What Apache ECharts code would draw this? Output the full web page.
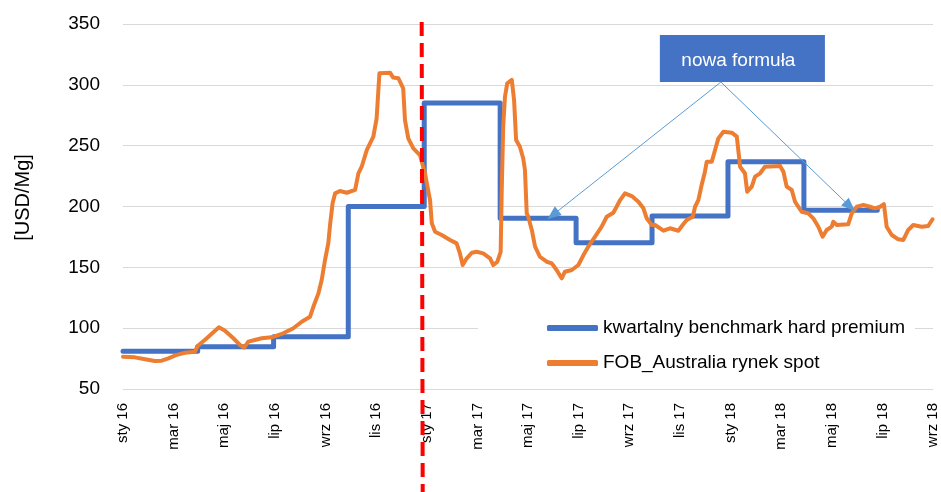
<!DOCTYPE html>
<html>
<head>
<meta charset="utf-8">
<script src="https://cdn.jsdelivr.net/npm/echarts@6/dist/echarts.min.js"></script>
<style>
html,body{margin:0;padding:0;background:#fff;}
#chart{width:941px;height:492px;}
</style>
</head>
<body>
<div id="chart"></div>
<script>
// ---- Data (x = months since Jan 2016) ----
const tickLabels = ['sty 16','mar 16','maj 16','lip 16','wrz 16','lis 16','sty 17','mar 17','maj 17','lip 17','wrz 17','lis 17','sty 18','mar 18','maj 18','lip 18','wrz 18'];

const seriesNames = ['kwartalny benchmark hard premium', 'FOB_Australia rynek spot'];

const benchmarkMonths = [0, 2.95, 5.95, 8.9, 11.9, 14.9, 17.9, 20.9, 23.9, 26.9, 29.8];
const benchmarkValues = [81, 84.8, 93, 200, 285, 190.3, 170.2, 192.2, 236.8, 197, 197];

const spotMonths = [0,0.47,0.87,1.26,1.53,1.79,2.12,2.45,2.84,2.95,3.31,3.57,3.79,4.03,4.36,4.62,4.79,4.95,5.21,5.48,5.87,
  6.33,6.73,7.06,7.39,7.52,7.72,7.85,7.98,8.11,8.18,8.28,8.38,8.57,8.84,9.17,9.30,9.43,9.63,9.89,10.02,10.13,10.55,10.67,10.88,
  11.07,11.14,11.27,11.47,11.73,11.93,12.13,12.20,12.33,12.59,12.92,13.18,13.31,13.42,13.58,13.78,13.97,14.23,14.50,14.63,14.79,
  14.92,14.96,15.02,15.09,15.18,15.36,15.45,15.53,15.68,15.81,15.88,15.95,16.01,16.15,16.28,16.47,16.74,16.94,17.13,17.33,17.46,
  17.73,17.99,18.19,18.38,18.65,18.91,19.11,19.37,19.50,19.64,19.83,20.10,20.36,20.56,20.69,20.89,21.02,21.35,21.61,21.94,22.11,
  22.27,22.51,22.60,22.73,22.86,22.99,23.06,23.26,23.39,23.52,23.72,24.05,24.25,24.38,24.57,24.66,24.84,24.97,25.17,25.36,25.96,
  26.09,26.22,26.42,26.55,26.81,27.07,27.27,27.47,27.64,27.80,28.00,28.06,28.20,28.65,28.79,28.99,29.25,29.51,29.71,29.91,30.06,
  30.17,30.37,30.63,30.83,31.02,31.22,31.55,31.81,31.98];
const spotValues = [76.5,76,74.4,73,73.3,75.2,78,79.8,80.7,85.3,91.7,96.6,100.7,97.9,91.7,86.2,84,88.9,90.3,91.7,92.5,
  95.8,99.9,105.3,109.4,117.6,128.6,139.6,156,169.7,184.8,202.6,210.8,212.7,211.3,213.6,227.3,232.7,246.4,257.4,272.5,309.5,310,306,305.4,
  297.1,271,256,247.8,242.3,227.3,205.3,186.2,179.3,176.6,172.5,169.7,161.5,151.9,157.4,162,162.8,161.5,157.4,151.9,154.6,
  162.8,210.8,265.6,290.2,301.2,304,287.5,254.7,249.1,239.6,230,194.4,191.6,180.7,167,158.7,154.6,153.3,147.8,141,146.4,
  147.8,151.9,160.1,167,175.2,183.4,191.6,194.9,199.8,205.3,210.8,208.6,203.9,198.5,190.3,184.8,184.8,180.1,182.1,180.1,184.8,
  188.9,191.6,199.8,205.3,217.7,228.6,236.8,236.8,246.4,256,261.5,260.7,257.4,232.7,227.3,212.2,216.3,224.5,227.3,232.7,233.3,
  228.6,216.3,213.6,203.9,195.7,194.4,190.3,183.4,175.2,180.7,183.4,187.5,184.8,185.4,194.4,199.8,201.2,199.8,198.5,199.8,202,
  183.4,176.6,173,172.5,180.7,184.8,183.4,184,189.5];

// ---- Annotations (data coordinates) ----
const annotationText = 'nowa formuła';
const annotationBox = [[21.21, 340.9], [27.73, 302.3]];
const arrowFrom = [23.62, 302.3];
const arrowTips = [[16.98, 193], [28.72, 200]];
const dividerMonth = 11.8;

const FONT = 'Liberation Sans, Arial, sans-serif';
const zip = (xs, ys) => xs.map((x, i) => [x, ys[i]]);

const chart = echarts.init(document.getElementById('chart'), null, {renderer: 'canvas'});

const option = {
  animation: false,
  backgroundColor: '#fff',
  grid: {left: 123, right: 8, top: 24, bottom: 103, containLabel: false},
  legend: {
    orient: 'vertical',
    left: 478, top: 305,
    padding: [12, 10, 8, 69],
    backgroundColor: '#fff',
    itemWidth: 51, itemHeight: 6, itemGap: 13,
    icon: 'roundRect',
    textStyle: {fontFamily: FONT, fontSize: 19, color: '#000', lineHeight: 22},
    data: seriesNames
  },
  xAxis: {
    type: 'value', min: 0, max: 32, interval: 2,
    axisLine: {show: false}, axisTick: {show: false}, splitLine: {show: false},
    axisLabel: {
      rotate: 90, margin: 14, fontFamily: FONT, fontSize: 15, color: '#000',
      formatter: v => tickLabels[Math.round(v / 2)] || ''
    }
  },
  yAxis: {
    type: 'value', min: 50, max: 350, interval: 50,
    name: '[USD/Mg]', nameLocation: 'middle', nameGap: 90,
    nameTextStyle: {fontFamily: FONT, fontSize: 20, color: '#000', padding: [0, 0, 0, 18]},
    axisLine: {show: false}, axisTick: {show: false},
    axisLabel: {margin: 23, fontFamily: FONT, fontSize: 19, color: '#000'},
    splitLine: {show: true, lineStyle: {color: '#D9D9D9', width: 1}}
  },
  series: [
    {
      name: seriesNames[0], type: 'line', step: 'end', symbol: 'none',
      data: zip(benchmarkMonths, benchmarkValues),
      lineStyle: {color: '#4472C4', width: 5, cap: 'round', join: 'round'},
      itemStyle: {color: '#4472C4'},
      z: 2,
      markArea: {
        silent: true,
        itemStyle: {color: '#4472C4'},
        label: {show: true, position: 'inside', color: '#fff', fontFamily: FONT, fontSize: 19, offset: [-4, 2]},
        data: [[{name: annotationText, coord: annotationBox[0]}, {coord: annotationBox[1]}]]
      },
      markLine: {
        silent: true,
        symbol: ['none', 'triangle'],
        symbolSize: [11, 14],
        label: {show: false},
        lineStyle: {color: '#5B9BD5', width: 1, type: 'solid'},
        data: arrowTips.map(t => [{coord: arrowFrom}, {coord: t}])
      }
    },
    {
      name: seriesNames[1], type: 'line', symbol: 'none',
      data: zip(spotMonths, spotValues),
      lineStyle: {color: '#ED7D31', width: 4, cap: 'round', join: 'round'},
      itemStyle: {color: '#ED7D31'},
      z: 3
    }
  ]
};
chart.setOption(option);

const px = chart.convertToPixel({xAxisIndex: 0}, dividerMonth);
const topPx = chart.convertToPixel({yAxisIndex: 0}, 350);
chart.setOption({
  graphic: [{
    type: 'line', z: 100,
    shape: {x1: px, y1: topPx - 2, x2: px + 1, y2: 492},
    style: {stroke: '#FF0000', lineWidth: 4, lineDash: [14, 7]}
  }]
});
</script>
</body>
</html>
